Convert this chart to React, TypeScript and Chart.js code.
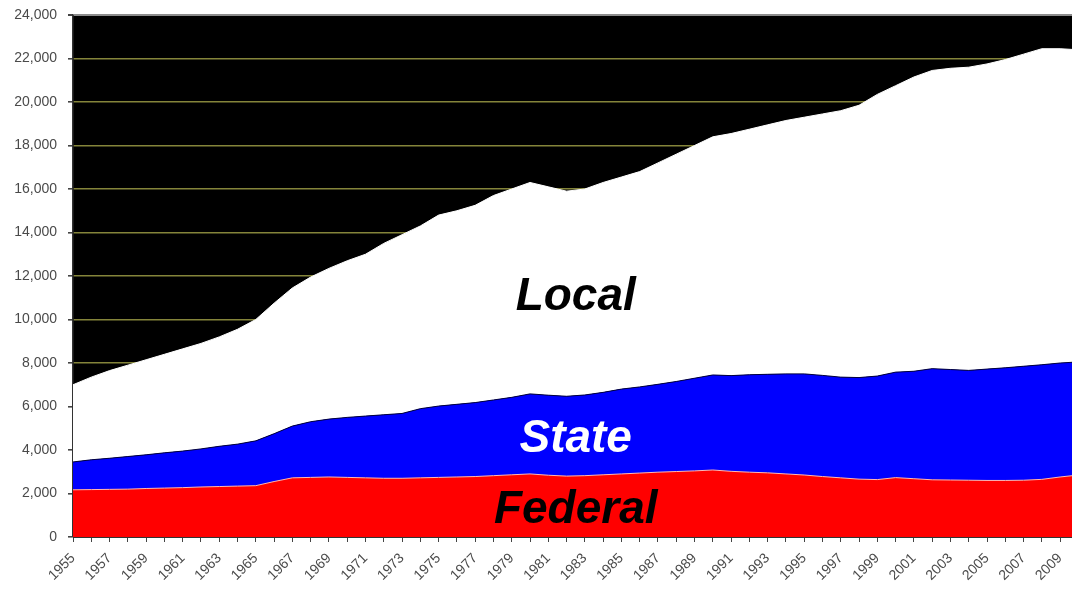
import React, { useEffect, useRef } from "react";
import { Chart, registerables } from "chart.js";

Chart.register(...registerables);

// Fiscal years shown on the category axis
const years: number[] = [
  1955, 1956, 1957, 1958, 1959, 1960, 1961, 1962, 1963, 1964,
  1965, 1966, 1967, 1968, 1969, 1970, 1971, 1972, 1973, 1974,
  1975, 1976, 1977, 1978, 1979, 1980, 1981, 1982, 1983, 1984,
  1985, 1986, 1987, 1988, 1989, 1990, 1991, 1992, 1993, 1994,
  1995, 1996, 1997, 1998, 1999, 2000, 2001, 2002, 2003, 2004,
  2005, 2006, 2007, 2008, 2009, 2010,
];

// Employment by level of government (thousands)
const federal: number[] = [
  2170, 2180, 2190, 2200, 2230, 2250, 2270, 2300, 2320, 2340,
  2360, 2550, 2720, 2740, 2760, 2740, 2720, 2700, 2700, 2720,
  2740, 2760, 2780, 2820, 2860, 2900, 2840, 2800, 2820, 2860,
  2900, 2940, 2980, 3010, 3040, 3080, 3020, 2980, 2950, 2900,
  2850, 2780, 2720, 2660, 2640, 2730, 2680, 2630, 2620, 2610,
  2600, 2600, 2610, 2650, 2760, 2850,
];

const state: number[] = [
  1280, 1370, 1430, 1500, 1550, 1620, 1680, 1750, 1850, 1930,
  2060, 2200, 2380, 2560, 2660, 2760, 2840, 2920, 2980, 3180,
  3280, 3340, 3400, 3480, 3560, 3680, 3680, 3670, 3710, 3790,
  3900, 3960, 4040, 4140, 4260, 4370, 4400, 4480, 4530, 4600,
  4650, 4650, 4630, 4670, 4760, 4850, 4940, 5110, 5080, 5050,
  5120, 5180, 5240, 5270, 5240, 5200,
];

const local: number[] = [
  3550, 3800, 4030, 4200, 4370, 4530, 4700, 4850, 5030, 5280,
  5580, 6000, 6350, 6650, 6930, 7200, 7440, 7880, 8220, 8400,
  8780, 8900, 9070, 9400, 9580, 9720, 9580, 9430, 9470, 9650,
  9750, 9900, 10180, 10450, 10700, 10950, 11130, 11290, 11470, 11650,
  11800, 12020, 12250, 12520, 12950, 13170, 13530, 13710, 13850, 13940,
  14030, 14170, 14350, 14530, 14450, 14350,
];

// Value-axis ticks
const yTicks: number[] = [0, 2000, 4000, 6000, 8000, 10000, 12000, 14000, 16000, 18000, 20000, 22000, 24000];

const seriesNames: string[] = ["Federal", "State", "Local"];

const AXIS_FONT = "Arial, 'Liberation Sans', sans-serif";

// Paints the plot area black before the stacked areas go on top
const plotBackground = {
  id: "plotBackground",
  beforeDraw(chart: any) {
    const { ctx, chartArea } = chart;
    ctx.save();
    ctx.fillStyle = "#000000";
    ctx.fillRect(chartArea.left, chartArea.top, chartArea.right - chartArea.left, chartArea.bottom - chartArea.top);
    ctx.restore();
  },
};

// Writes each series name inside its own band
const bandLabels = {
  id: "bandLabels",
  afterDatasetsDraw(chart: any) {
    const { ctx, scales } = chart;
    const xs = scales.x;
    const ys = scales.y;
    const items = [
      { text: seriesNames[2], yr: 1982.5, v: 10440, color: "#000000" },
      { text: seriesNames[1], yr: 1982.5, v: 3910, color: "#ffffff" },
      { text: seriesNames[0], yr: 1982.5, v: 640, color: "#000000" },
    ];
    ctx.save();
    ctx.font = `italic bold 46px ${AXIS_FONT}`;
    ctx.textAlign = "center";
    ctx.textBaseline = "alphabetic";
    for (const it of items) {
      ctx.fillStyle = it.color;
      const x = xs.getPixelForValue(it.yr - years[0]);
      const y = ys.getPixelForValue(it.v);
      ctx.fillText(it.text, x, y);
    }
    ctx.restore();
  },
};

export default function App() {
  const canvasRef = useRef<HTMLCanvasElement | null>(null);

  useEffect(() => {
    if (!canvasRef.current) return;
    const chart = new Chart(canvasRef.current, {
      type: "line",
      data: {
        labels: years.map(String),
        datasets: [
          {
            label: seriesNames[0],
            data: federal,
            backgroundColor: "#ff0000",
            borderColor: "#ffb8b8",
            borderWidth: 1,
            fill: "origin",
            pointRadius: 0,
            tension: 0,
          },
          {
            label: seriesNames[1],
            data: state,
            backgroundColor: "#0000ff",
            borderColor: "#000040",
            borderWidth: 1,
            fill: "-1",
            pointRadius: 0,
            tension: 0,
          },
          {
            label: seriesNames[2],
            data: local,
            backgroundColor: "#ffffff",
            borderColor: "#ffffff",
            borderWidth: 1,
            fill: "-1",
            pointRadius: 0,
            tension: 0,
          },
        ],
      },
      options: {
        responsive: false,
        animation: false,
        layout: { padding: { top: 15, right: 11.6, left: 0, bottom: 0 } },
        plugins: {
          legend: { display: false },
          tooltip: { enabled: false },
        },
        scales: {
          x: {
            type: "category",
            offset: false,
            stacked: true,
            afterFit(scale: any) {
              scale.height = 53;
              scale.paddingLeft = 0;
              scale.paddingRight = 0;
            },
            grid: {
              drawOnChartArea: false,
              drawTicks: true,
              tickLength: 5,
              color: "#444444",
            },
            border: { display: true, color: "#333333", width: 1 },
            ticks: {
              autoSkip: false,
              maxRotation: 45,
              minRotation: 45,
              padding: 8,
              color: "#4a4a4a",
              font: { family: AXIS_FONT, size: 14 },
              callback: (_v: any, i: number) => (i % 2 === 0 ? String(years[i]) : ""),
            },
          },
          y: {
            stacked: true,
            min: yTicks[0],
            max: yTicks[yTicks.length - 1],
            afterFit(scale: any) {
              scale.width = 73;
              scale.paddingTop = 0;
              scale.paddingBottom = 0;
            },
            afterBuildTicks(scale: any) {
              scale.ticks = yTicks.map((v) => ({ value: v }));
            },
            grid: {
              color: (c: any) => (c.tick && c.tick.value === 24000 ? "#8c8c8c" : "#84843a"),
              lineWidth: (c: any) => (c.tick && c.tick.value === 24000 ? 2 : 1.6),
              drawTicks: true,
              tickLength: 5,
              tickColor: "#444444",
            },
            border: { display: true, color: "#333333", width: 1.5 },
            ticks: {
              padding: 11,
              color: "#4a4a4a",
              font: { family: AXIS_FONT, size: 14 },
              callback: (v: any) => Number(v).toLocaleString("en-US"),
            },
          },
        },
      },
      plugins: [plotBackground, bandLabels],
    });
    return () => chart.destroy();
  }, []);

  return (
    <div
      style={{
        position: "fixed",
        left: 0,
        top: 0,
        width: 1072,
        height: 590,
        overflow: "hidden",
        background: "#ffffff",
      }}
    >
      <canvas ref={canvasRef} width={1090} height={590} style={{ display: "block" }} />
    </div>
  );
}
